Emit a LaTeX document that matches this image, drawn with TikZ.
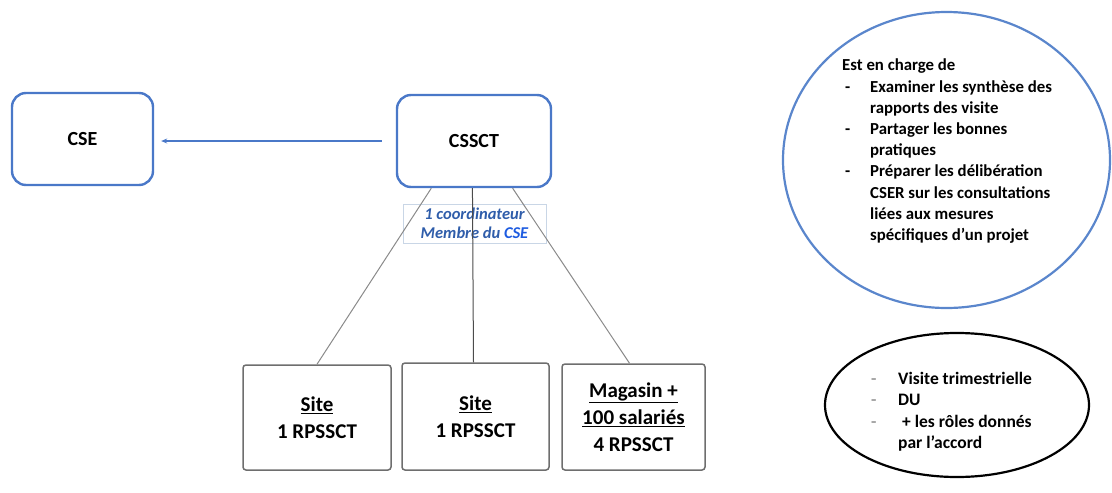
\documentclass[tikz,border=0pt]{standalone}
\usepackage{fontspec}
\setmainfont{Carlito}
\usetikzlibrary{shapes.geometric,calc,arrows.meta}
\definecolor{boxblue}{HTML}{4A78C8}
\definecolor{labblue}{HTML}{2F5DAA}
\definecolor{csebright}{HTML}{1D5BE0}
\definecolor{labframe}{HTML}{C9D6E6}
\definecolor{sitegrey}{HTML}{6E6E6E}
\definecolor{linegrey}{HTML}{8A8A8A}
\definecolor{ellblue}{HTML}{5A86CC}
\definecolor{dashgrey}{HTML}{A0A0A0}
\newcommand{\bulletcol}[2]{\makebox[#1][l]{#2}}
\begin{document}
\begin{tikzpicture}[x=1pt,y=-1pt,
  bluebox/.style={draw=boxblue, line width=2.4pt, rounded corners=14pt, inner sep=0pt,
    font=\fontsize{20}{24}\selectfont\bfseries},
  sitebox/.style={draw=sitegrey, line width=1.5pt, rounded corners=3pt, inner sep=0pt,
    minimum height=105pt, align=center, font=\fontsize{21}{27}\selectfont\bfseries},
  linkline/.style={draw=linegrey, line width=1pt},
  listtext/.style={inner sep=0pt, anchor=north west, align=left}
]
\useasboundingbox (0,0) rectangle (1112,493);

% top boxes
\node[bluebox, minimum width=141pt, minimum height=92pt] (cse) at (82.5,139) {CSE};
\node[bluebox, minimum width=154pt, minimum height=92pt] (cssct) at (474,141) {CSSCT};
\draw[draw=boxblue, line width=1.6pt, -{Stealth[length=6pt,width=5pt]},
  shorten <=14pt, shorten >=7pt] (cssct.west) -- (cssct.west -| cse.east);

% coordinator label
\node[draw=labframe, line width=0.8pt, minimum width=143pt, minimum height=39pt, inner sep=0pt,
  align=center, text=labblue, font=\fontsize{16.5}{19.5}\selectfont\bfseries\itshape]
  (coord) at (474.5,223.5) {1 coordinateur\\Membre du {\color{csebright}CSE}};

% site boxes
\node[sitebox, minimum width=148pt] (site1) at (317,417.5) {\underline{Site}\\1 RPSSCT};
\node[sitebox, minimum width=147pt, minimum height=107pt] (site2) at (475.5,416.5) {\underline{Site}\\1 RPSSCT};
\node[sitebox, minimum width=143pt, minimum height=106pt] (site3) at (633.5,417) {\underline{Magasin +}\\\underline{100 salariés}\\4 RPSSCT};

% connectors
\draw[linkline] ($(cssct.south west)!0.227!(cssct.south east)$) -- (site1.north);
\draw[linkline, draw=black!70] ($(cssct.south west)!0.49!(cssct.south east)$) -- (site2.north -| 473.5,0);
\draw[linkline] ($(cssct.south west)!0.747!(cssct.south east)$) -- ($(site3.north)+(-4,0)$);

% responsibilities ellipse
\node[draw=ellblue, line width=2.2pt, ellipse, minimum width=327pt, minimum height=296pt, inner sep=0pt]
  (resp) at (946.5,160) {};
\node[listtext, font=\fontsize{16.8}{21.2}\selectfont\bfseries] (resptext) at (842,59) {%
  Est en charge de\\
  \bulletcol{28pt}{\hspace{3pt}-}Examiner les synthèse des\\
  \bulletcol{28pt}{}rapports des visite\\
  \bulletcol{28pt}{\hspace{3pt}-}Partager les bonnes\\
  \bulletcol{28pt}{}pratiques\\
  \bulletcol{28pt}{\hspace{3pt}-}Préparer les délibération\\
  \bulletcol{28pt}{}CSER sur les consultations\\
  \bulletcol{28pt}{}liées aux mesures\\
  \bulletcol{28pt}{}spécifiques d’un projet};

% visit ellipse
\node[draw=black, line width=2.2pt, ellipse, minimum width=264pt, minimum height=144pt, inner sep=0pt]
  (visit) at (957,405) {};
\node[listtext, font=\fontsize{17.5}{21.5}\selectfont\bfseries] (visittext) at (871,372) {%
  \bulletcol{27pt}{\textcolor{dashgrey}{-}}Visite trimestrielle\\
  \bulletcol{27pt}{\textcolor{dashgrey}{-}}DU\\
  \bulletcol{27pt}{\textcolor{dashgrey}{-}}\ + les rôles donnés\\
  \bulletcol{27pt}{}par l’accord};
\end{tikzpicture}
\end{document}
